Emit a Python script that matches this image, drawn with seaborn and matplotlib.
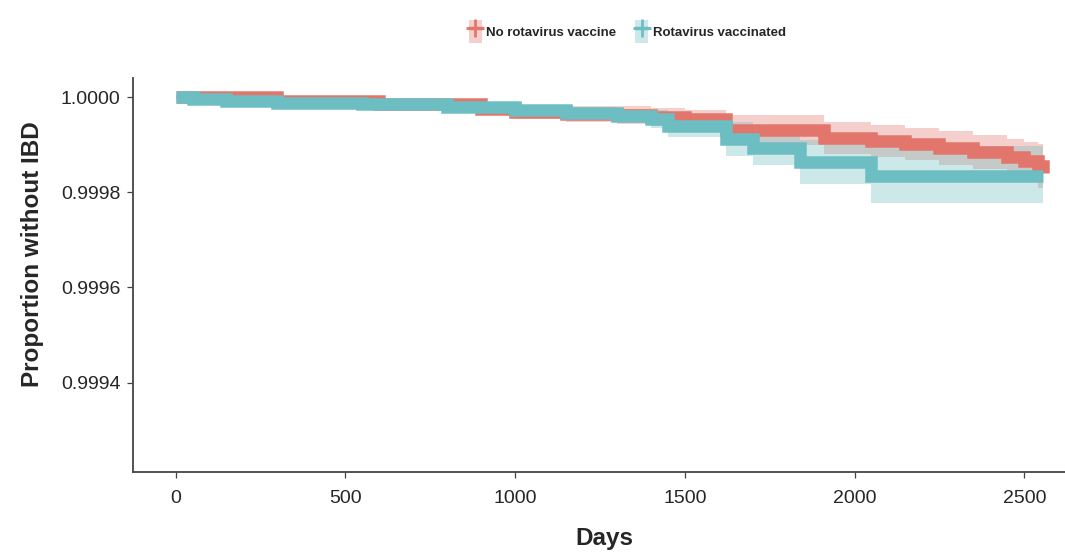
import seaborn as sns
import matplotlib.pyplot as plt
import pandas as pd
import numpy as np
from matplotlib.patches import Patch
from matplotlib.lines import Line2D
from matplotlib.legend_handler import HandlerTuple
from matplotlib.ticker import FormatStrFormatter

# Kaplan-Meier estimates
days_no = [0, 300, 600, 900, 1000, 1150, 1300, 1400, 1500, 1620, 1910, 2050, 2150,
           2250, 2350, 2450, 2500, 2540, 2556]
surv_no = [1.000000, 0.999992, 0.999985, 0.999975, 0.999969, 0.999964, 0.999962,
           0.999958, 0.999954, 0.999931, 0.999914, 0.999908, 0.999901, 0.999893,
           0.999885, 0.999874, 0.999866, 0.999855, 0.999841]
upper_no = [1.000004, 0.999996, 0.999992, 0.999985, 0.999983, 0.999981, 0.999981,
            0.999977, 0.999973, 0.999962, 0.999948, 0.999941, 0.999935, 0.999929,
            0.999920, 0.999912, 0.999906, 0.999901, 0.999899]
lower_no = [0.999996, 0.999987, 0.999979, 0.999964, 0.999954, 0.999948, 0.999943,
            0.999939, 0.999935, 0.999899, 0.999880, 0.999874, 0.999868, 0.999857,
            0.999849, 0.999836, 0.999826, 0.999809, 0.999805]

days_vac = [0, 50, 150, 300, 550, 800, 1000, 1150, 1300, 1400, 1450, 1620, 1700,
            1840, 2050, 2556]
surv_vac = [1.000000, 0.999996, 0.999992, 0.999987, 0.999985, 0.999979, 0.999973,
            0.999966, 0.999960, 0.999954, 0.999939, 0.999912, 0.999893, 0.999864,
            0.999834, 0.999834]
upper_vac = [1.000004, 1.000000, 0.999996, 0.999994, 0.999992, 0.999987, 0.999983,
             0.999979, 0.999975, 0.999973, 0.999962, 0.999948, 0.999935, 0.999910,
             0.999897, 0.999897]
lower_vac = [0.999996, 0.999992, 0.999987, 0.999981, 0.999979, 0.999971, 0.999962,
             0.999954, 0.999945, 0.999935, 0.999916, 0.999876, 0.999857, 0.999817,
             0.999778, 0.999778]

groups = ["No rotavirus vaccine", "Rotavirus vaccinated"]
colors = {"No rotavirus vaccine": "#E3766C", "Rotavirus vaccinated": "#6DBEC2"}

df = pd.concat([
    pd.DataFrame({"Days": days_no, "surv": surv_no, "lo": lower_no, "hi": upper_no,
                  "group": groups[0]}),
    pd.DataFrame({"Days": days_vac, "surv": surv_vac, "lo": lower_vac, "hi": upper_vac,
                  "group": groups[1]}),
])

sns.set_style("ticks")
plt.rcParams["font.family"] = ["Liberation Sans", "DejaVu Sans"]

fig = plt.figure(figsize=(10.65, 5.53), dpi=100)
ax = fig.add_axes([0.125, 0.147, 0.875, 0.712])

for g in groups:
    sub = df[df["group"] == g]
    ax.fill_between(sub["Days"], sub["lo"], sub["hi"], step="post",
                    color=colors[g], alpha=0.35, linewidth=0)

sns.lineplot(data=df, x="Days", y="surv", hue="group", hue_order=groups,
             palette=colors, drawstyle="steps-post", linewidth=9,
             solid_capstyle="butt", solid_joinstyle="miter",
             estimator=None, sort=False, legend=False, ax=ax)

ax.set_xlim(-125, 2620)
ax.set_ylim(0.999213, 1.00004)
ax.set_xticks([0, 500, 1000, 1500, 2000, 2500])
ax.set_yticks([0.9994, 0.9996, 0.9998, 1.0000])
ax.yaxis.set_major_formatter(FormatStrFormatter("%.4f"))
ax.tick_params(labelsize=14, colors="#444444", length=4, width=0.9,
               labelcolor="#262626")
ax.tick_params(axis="x", pad=9)
ax.tick_params(axis="y", pad=5)
sns.despine(ax=ax)
for s in ["left", "bottom"]:
    ax.spines[s].set_color("#444444")
    ax.spines[s].set_linewidth(1.3)

ax.set_xlabel("Days", fontsize=17.5, fontweight="bold")
ax.set_ylabel("Proportion without IBD", fontsize=17.5, fontweight="bold")
ax.xaxis.set_label_coords(0.506, -0.14)
ax.yaxis.set_label_coords(-0.096, 0.553)

handles = []
for g in groups:
    handles.append((Patch(facecolor=colors[g], alpha=0.35, edgecolor="none"),
                    Line2D([], [], color=colors[g], linewidth=2.5, marker="+",
                           markersize=13, markeredgewidth=2.0)))
fig.legend(handles, groups, handler_map={tuple: HandlerTuple(ndivide=1)},
           loc="center", bbox_to_anchor=(0.589, 0.943), ncol=2, frameon=False,
           prop={"size": 9.5, "weight": "bold"}, handlelength=1.0, handleheight=2.4,
           columnspacing=1.4, handletextpad=0.35)

fig.savefig("out.png", dpi=100)
